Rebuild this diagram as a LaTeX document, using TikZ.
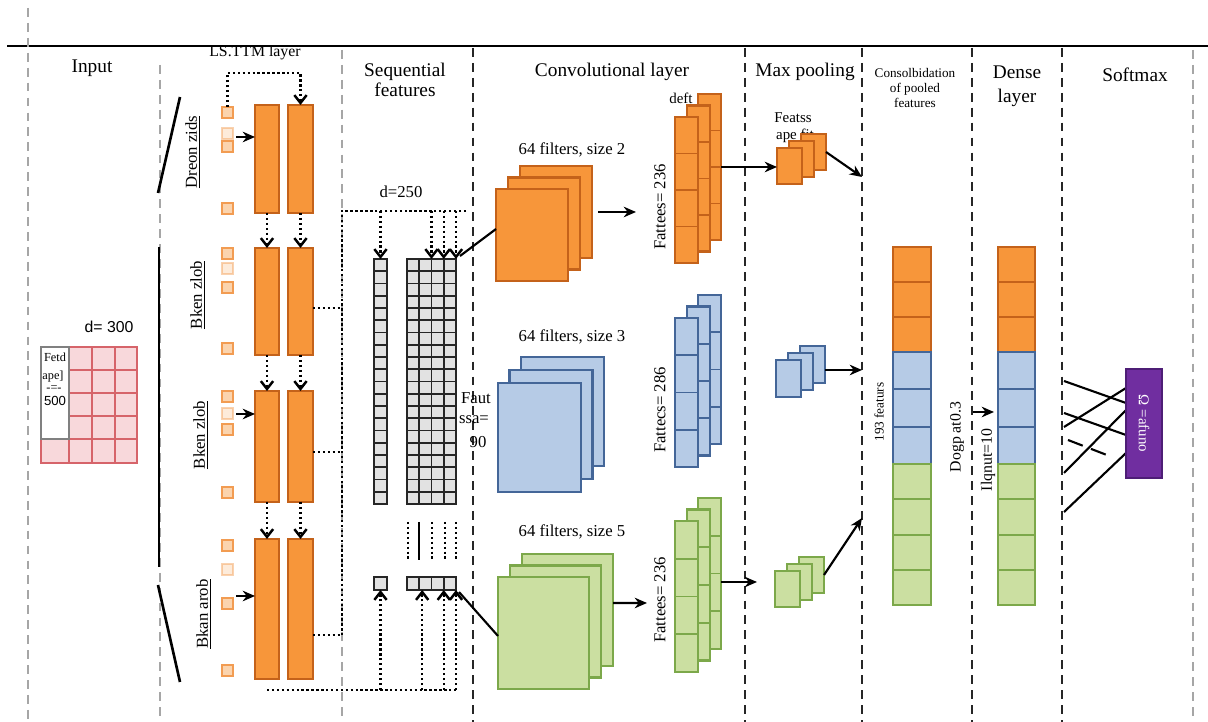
\documentclass[tikz,border=0pt]{standalone}
\usepackage{fontspec}
\setmainfont{Liberation Serif}
\newfontfamily\sansfam{Liberation Sans}
\usetikzlibrary{arrows.meta,calc}

\definecolor{orF}{RGB}{247,150,58}
\definecolor{orD}{RGB}{196,98,26}
\definecolor{sqF}{RGB}{251,212,174}
\definecolor{sqD}{RGB}{242,156,82}
\definecolor{blF}{RGB}{182,203,230}
\definecolor{blD}{RGB}{68,102,152}
\definecolor{grF}{RGB}{203,223,161}
\definecolor{grD}{RGB}{124,168,74}
\definecolor{pkF}{RGB}{248,216,219}
\definecolor{pkD}{RGB}{214,100,106}
\definecolor{puF}{RGB}{112,46,160}
\definecolor{puD}{RGB}{78,30,118}
\definecolor{gcF}{RGB}{226,226,226}

\tikzset{
  sz/.style 2 args={minimum width=(#1)*0.02cm, minimum height=(#2)*0.02cm},
  shp/.style={inner sep=0pt, outer sep=0pt, anchor=north west},
  lstmbar/.style={shp, draw=orD, fill=orF, line width=1.3pt},
  insq/.style={shp, draw=sqD, fill=sqF, line width=0.9pt, sz={11}{11}},
  fadesq/.style={insq, opacity=0.45},
  gcell/.style={draw=black!85, fill=gcF, line width=0.9pt},
  pcell/.style={draw=pkD, fill=pkF, line width=1.1pt},
  stackbox/.style={shp, line width=1.2pt},
  hardiv/.style={black!85, line width=1.1pt, dash pattern=on 5pt off 3.5pt},
  softdiv/.style={black!35, line width=0.9pt, dash pattern=on 5pt off 3.5pt},
  dotline/.style={line width=1.4pt, dash pattern=on 1.4pt off 1.4pt},
  dotarrow/.style={dotline, -{Straight Barb[length=4.5pt,width=7pt]}},
  arr/.style={line width=1.2pt, -{Stealth[length=7pt,width=6pt]}},
  conn/.style={line width=1.2pt},
  txt/.style={inner sep=0pt, font=\fontsize{9.5}{11}\selectfont},
  headtxt/.style={inner sep=0pt, font=\fontsize{11}{13}\selectfont, align=center},
  rlab/.style={txt, rotate=90},
}

\begin{document}
\begin{tikzpicture}[x=0.02cm, y=-0.02cm]
\useasboundingbox (0,0) rectangle (1208,722);
\fill[white] (0,0) rectangle (1208,722);

% dividers
\draw[line width=1.5pt] (7,46) -- (1208,46);
\foreach \x/\y in {28/8, 160/65, 342/50, 1193/50}
  \draw[softdiv] (\x,\y) -- (\x,722);
\foreach \x in {473,745,862,972,1062}
  \draw[hardiv] (\x,48) -- (\x,722);

% headers
\node[headtxt] (hInput) at (92,68) {Input};
\node[headtxt, font=\fontsize{9}{10}\selectfont] (hLstm) at (255,53) {LS.TTM layer};
\node[headtxt, font=\fontsize{11}{11.5}\selectfont] (hSeq) at (405,80) {Sequential\\features};
\node[headtxt] (hConv) at (612,72) {Convolutional layer};
\node[headtxt] (hPool) at (805,72) {Max pooling};
\node[headtxt, font=\fontsize{7.5}{8.8}\selectfont] (hCons) at (915,88) {Consolbidation\\of pooled\\features};
\node[headtxt, font=\fontsize{11}{13.6}\selectfont] (hDense) at (1017,86) {Dense\\layer};
\node[headtxt] (hSoft) at (1135,75) {Softmax};

% input matrix
\node[txt, font=\sansfam\fontsize{9}{10}\selectfont] (dIn) at (109,327) {d= 300};
\foreach \xa/\xb in {69/92, 92/115, 115/137}
  \foreach \ya/\yb in {347/370, 370/393, 393/416, 416/439, 439/463}
    \draw[pcell] (\xa,\ya) rectangle (\xb,\yb);
\draw[pcell] (41,439) rectangle (69,463);
\node[shp, draw=pkD, line width=1.1pt, sz={96}{116}] (inMat) at (41,347) {};
\node[shp, draw=black!50, fill=white, line width=0.9pt, sz={28}{92}] (inHead) at (41,347) {};
\node[txt, font=\fontsize{7}{8}\selectfont] (inT1) at (55,357) {Fetd};
\node[txt, font=\fontsize{7}{8}\selectfont] (inT2) at (53,377) {ape]};
\node[txt, font=\fontsize{7}{8}\selectfont] (inT3) at (54,389) {-=-};
\node[txt, font=\sansfam\fontsize{7.5}{8}\selectfont] (inT4) at (55,401) {500};

% input strokes
\draw[line width=1.5pt] (180,97) -- (158,193);
\draw[line width=1.5pt] (159,247) -- (159,567);
\draw[line width=1.5pt] (158,585) -- (180,682);

% LSTM layer
\foreach \n/\yt/\yb in {1/105/213, 2/248/355, 3/391/502, 4/539/679}{
  \node[lstmbar, sz={24}{\yb-\yt}] (bA\n) at (255,\yt) {};
  \node[lstmbar, sz={25}{\yb-\yt}] (bB\n) at (288,\yt) {};
}
\foreach \n/\ya/\yb/\yc/\yd in {1/107/128/141/203, 2/248/263/282/343, 3/391/408/424/487, 4/540/564/598/665}{
  \node[insq] (q\n a) at (222,\ya) {};
  \node[fadesq] (q\n b) at (222,\yb) {};
  \node[insq] (q\n c) at (222,\yc) {};
  \node[insq] (q\n d) at (222,\yd) {};
}
\foreach \n/\x/\y/\lbl in {1/193/152/Dreon zids, 2/198/295/Bken zlob, 3/201/435/Bken zlob, 4/204/614/Bkan arob}
  \node[rlab] (lab\n) at (\x,\y) {\underline{\lbl}};
\foreach \n/\y in {1/137, 3/414, 4/596}{
  \coordinate (inA\n) at (236,\y);
  \draw[arr] (inA\n) -- (inA\n -| bA\n.west);
}
\coordinate (loopTop) at (227.5,73);
\draw[dotarrow] (q1a.north) -- (loopTop) -| (bB1.north);
\foreach \src/\dst in {bA1/bA2, bA2/bA3, bA3/bA4, bB1/bB2, bB2/bB3, bB3/bB4}
  \draw[dotarrow] (\src.south) -- (\dst.north);

% bus to sequential features
\coordinate (busT) at (342,211);
\coordinate (busTe) at (466,211);
\coordinate (busB) at (267,690);
\coordinate (busBe) at (456,690);
\coordinate (o2) at (342,308);
\coordinate (o3) at (342,452);
\coordinate (o4) at (342,635);
\draw[dotline] (busTe) -- (busT) -- (o4);
\foreach \n in {2,3,4}
  \draw[dotline] (o\n -| bB\n.east) -- (o\n);
\draw[dotline] (busB) -- (busBe);
\node[txt] (d250) at (401,192) {d=250};

% sequential features
\node[shp, sz={13}{245}] (seqA) at (374,259) {};
\node[shp, sz={49}{245}] (seqB) at (407,259) {};
\foreach \i in {0,...,19}{
  \draw[gcell] (374,259+12.25*\i) rectangle ++(13,12.25);
  \foreach \j in {0,...,3}
    \draw[gcell] (407+12.25*\j,259+12.25*\i) rectangle ++(12.25,12.25);
}
\foreach \x in {408,432,445,456}
  \draw[dotline, line width=1.2pt] (\x,522) -- (\x,560);
\draw[line width=1.2pt] (419,522) -- (419,560);
\node[shp, draw=black!85, fill=gcF, line width=0.9pt, sz={13}{13}] (seqA2) at (374,577) {};
\node[shp, sz={49}{13}] (seqB2) at (407,577) {};
\foreach \j in {0,...,3}
  \draw[gcell] (407+12.25*\j,577) rectangle ++(12.25,13);
\draw[dotarrow] (seqA.north |- busT) -- (seqA.north);
\foreach \f [count=\i] in {0.5,0.75,1}{
  \coordinate (sbT\i) at ($(seqB.north west)!\f!(seqB.north east)$);
  \draw[dotarrow] (sbT\i |- busT) -- (sbT\i);
}
\draw[dotarrow] (seqA2.south |- busB) -- (seqA2.south);
\foreach \f [count=\i] in {0.31,0.75,1}{
  \coordinate (sbB\i) at ($(seqB2.south west)!\f!(seqB2.south east)$);
  \draw[dotarrow] (sbB\i |- busB) -- (sbB\i);
}
\node[txt] (fa1) at (476,398) {Faut};
\node[txt] (fa2) at (474,420) {ssa=};
\node[txt] (fa3) at (478,442) {90};

% convolutional layer
\foreach \n/\cf/\cd/\x/\y/\w/\h/\dx/\dy in {A/orF/orD/496/189/72/92/12/11.5, B/blF/blD/498/383/83/109/11.5/13, C/grF/grD/498/577/91/112/12/11.5}
  \foreach \k in {3,2,1}
    \node[stackbox, fill=\cf, draw=\cd, sz={\w}{\h}] (c\n\k) at ({\x+\dx*(\k-1)},{\y-\dy*(\k-1)}) {};
\node[txt] (flA) at (572,150) {64 filters, size 2};
\node[txt] (flB) at (572,337) {64 filters, size 3};
\node[txt] (flC) at (572,532) {64 filters, size 5};
\coordinate (seqOutT) at (460,256);
\coordinate (seqOutB) at (459,592);
\draw[conn] (seqOutT) -- (cA1.west |- 0,229);
\draw[conn] (seqOutB) -- (cC1.west |- 0,636);
\coordinate (caEnd) at (636,212);
\coordinate (ccEnd) at (647,603);
\draw[arr] ([xshift=0.12cm]cA3.east) -- (caEnd);
\draw[arr] ([yshift=0.14cm]cC3.east) -- (ccEnd);

% feature maps
\foreach \n/\cf/\cd/\y/\h in {A/orF/orD/94/146, B/blF/blD/295/149, C/grF/grD/498/151}{
  \foreach \k/\dx/\dy in {3/23/0, 2/12/11.5, 1/0/23}{
    \node[stackbox, fill=\cf, draw=\cd, sz={23}{\h}] (f\n\k) at (675+\dx,\y+\dy) {};
    \foreach \j in {1,2,3}
      \draw[\cd, line width=1.1pt] ($(f\n\k.north west)!\j/4!(f\n\k.south west)$) -- ($(f\n\k.north east)!\j/4!(f\n\k.south east)$);
  }
}
\node[rlab] (fmA) at (660,207) {Fattees= 236};
\node[rlab] (fmB) at (660,410) {Fattecs= 286};
\node[rlab] (fmC) at (660,600) {Fattees= 236};
\node[txt, font=\fontsize{8.5}{10}\selectfont] (deft) at (681,98) {deft};

% max pooling
\node[txt, font=\fontsize{8.5}{10}\selectfont] (pfa) at (793,118) {Featss};
\node[txt, font=\fontsize{8.5}{10}\selectfont] (pfb) at (795,136) {ape fit};
\foreach \n/\cf/\cd/\x/\y/\h in {A/orF/orD/777/148/36, B/blF/blD/776/360/37, C/grF/grD/775/571/36}
  \foreach \k in {3,2,1}
    \node[stackbox, fill=\cf, draw=\cd, sz={25}{\h}] (p\n\k) at ({\x+12*(\k-1)},{\y-7*(\k-1)}) {};
\draw[arr] (fA3.east) -- (fA3.east -| pA1.west);
\coordinate (gpEnd) at (757,582);
\draw[arr] (gpEnd -| fC3.east) -- (gpEnd);
\coordinate (cIn1) at (862,177);
\coordinate (cIn2) at (862,370);
\coordinate (cIn3) at (862,518);
\draw[arr] (pA3.east) -- (cIn1);
\draw[arr] (cIn2 -| pB3.east) -- (cIn2);
\draw[arr] (pC3.east) -- (cIn3);

% consolidation and dense layer
\foreach \y/\h/\cf/\cd [count=\i] in {247/35/orF/orD, 282/35/orF/orD, 317/35/orF/orD, 352/37/blF/blD, 389/38/blF/blD, 427/37/blF/blD, 464/35/grF/grD, 499/36/grF/grD, 535/35/grF/grD, 570/35/grF/grD}{
  \node[stackbox, fill=\cf, draw=\cd, sz={38}{\h}] (cons\i) at (893,\y) {};
  \node[stackbox, fill=\cf, draw=\cd, sz={37}{\h}] (dens\i) at (998,\y) {};
}
\node[rlab, font=\fontsize{7.5}{9}\selectfont] (consLab) at (879,412) {193 featurs};
\node[rlab, font=\fontsize{9}{10}\selectfont] (dropLab) at (957,437) {Dogp at0.3};
\node[rlab, font=\fontsize{9}{10}\selectfont] (unitLab) at (988,460) {Ilqnut=10};
\coordinate (drSt) at (973,412);
\coordinate (drEnd) at (994,412);
\draw[arr] (drSt) -- (drEnd);

% softmax
\foreach \ya/\yb [count=\i] in {381/403, 413/435, 427/388, 473/410, 512/453}{
  \coordinate (sIn\i) at (1064,\ya);
  \draw[conn] (sIn\i) -- (1126,\yb);
}
\coordinate (sIn6) at (1068,440);
\draw[conn, dash pattern=on 9pt off 5pt] (sIn6) -- (1112,457);
\node[shp, fill=puF, draw=puD, line width=1.2pt, sz={36}{109}] (soft) at (1126,369) {};
\node[txt, rotate=-90, text=white, font=\fontsize{8.5}{10}\selectfont] (softT) at (soft.center) {Ω =afuno};
\end{tikzpicture}
\end{document}
